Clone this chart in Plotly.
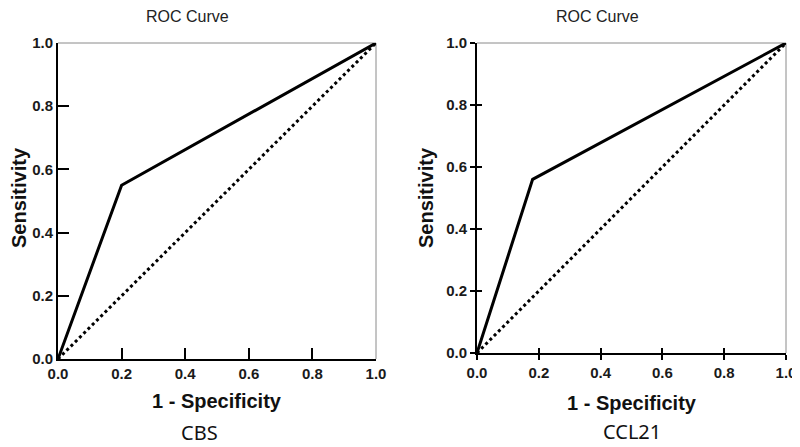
import plotly.graph_objects as go

# ---- data ----
cbs_fpr = [0.0, 0.20, 1.0]
cbs_tpr = [0.0, 0.55, 1.0]
ccl_fpr = [0.0, 0.18, 1.0]
ccl_tpr = [0.0, 0.56, 1.0]
ref_x = [0.0, 1.0]
ref_y = [0.0, 1.0]
tick_vals = [0.0, 0.2, 0.4, 0.6, 0.8, 1.0]
tick_text = ["0.0", "0.2", "0.4", "0.6", "0.8", "1.0"]
panel_names = ["CBS", "CCL21"]

W, H = 800, 447
OFF = 8  # page body margin in the viewer

def px_x(p):
    return (p - OFF) / W

def px_y(p):
    return 1 - (p - OFF) / H

fig = go.Figure()

# left panel
fig.add_trace(go.Scatter(x=cbs_fpr, y=cbs_tpr, mode="lines",
                         line=dict(color="black", width=3),
                         xaxis="x", yaxis="y", showlegend=False, hoverinfo="skip"))
fig.add_trace(go.Scatter(x=ref_x, y=ref_y, mode="lines",
                         line=dict(color="black", width=3, dash="3px,3px"),
                         xaxis="x", yaxis="y", showlegend=False, hoverinfo="skip"))
# right panel
fig.add_trace(go.Scatter(x=ccl_fpr, y=ccl_tpr, mode="lines",
                         line=dict(color="black", width=3),
                         xaxis="x2", yaxis="y2", showlegend=False, hoverinfo="skip"))
fig.add_trace(go.Scatter(x=ref_x, y=ref_y, mode="lines",
                         line=dict(color="black", width=3, dash="3px,3px"),
                         xaxis="x2", yaxis="y2", showlegend=False, hoverinfo="skip"))
# empty trace for overlay axes (inside half of crossing ticks)
fig.add_trace(go.Scatter(x=[None], y=[None], xaxis="x3", yaxis="y3",
                         showlegend=False, hoverinfo="skip"))

tick_font = dict(family="Liberation Sans, Arial", size=15, color="#1a1a1a", weight="bold")

dom_x1 = [px_x(58), px_x(376)]
dom_x2 = [px_x(477), px_x(786)]
dom_y1 = [px_y(359), px_y(43)]
dom_y2 = [px_y(353), px_y(43)]

common = dict(range=[0, 1], tickvals=tick_vals, ticktext=tick_text,
              showgrid=False, zeroline=False, showline=True, automargin=False,
              linecolor="black", linewidth=2, tickcolor="black",
              tickwidth=1.5, tickfont=tick_font, fixedrange=True)

fig.update_layout(
    template="none",
    width=W, height=H,
    margin=dict(l=0, r=0, t=0, b=0, pad=0, autoexpand=False),
    paper_bgcolor="white", plot_bgcolor="white",
    xaxis=dict(domain=dom_x1, anchor="y", ticks="inside", ticklen=11, **common),
    yaxis=dict(domain=dom_y1, anchor="x", ticks="inside", ticklen=11, **common),
    xaxis2=dict(domain=dom_x2, anchor="y2", ticks="outside", ticklen=5, **common),
    yaxis2=dict(domain=dom_y2, anchor="x2", ticks="outside", ticklen=5, **common),
    xaxis3=dict(domain=dom_x2, anchor="y3", overlaying="x2", range=[0, 1],
                tickvals=tick_vals, ticks="inside", ticklen=5, tickwidth=1.5,
                tickcolor="black", showticklabels=False, showgrid=False, automargin=False,
                zeroline=False, showline=False, fixedrange=True),
    yaxis3=dict(domain=dom_y2, anchor="x3", overlaying="y2", range=[0, 1],
                tickvals=tick_vals, ticks="inside", ticklen=5, tickwidth=1.5,
                tickcolor="black", showticklabels=False, showgrid=False, automargin=False,
                zeroline=False, showline=False, fixedrange=True),
)

# thin grey top/right frame
for xr, yr in [("x", "y"), ("x2", "y2")]:
    fig.add_shape(type="line", xref=f"{xr} domain", yref=f"{yr} domain",
                  x0=0, x1=1, y0=1, y1=1, line=dict(color="#8a8a8a", width=1), layer="below")
    fig.add_shape(type="line", xref=f"{xr} domain", yref=f"{yr} domain",
                  x0=1, x1=1, y0=0, y1=1, line=dict(color="#8a8a8a", width=1), layer="below")

ann = []
# titles
for cx in [187, 597]:
    ann.append(dict(text="ROC Curve", x=px_x(cx), y=px_y(17), xref="paper", yref="paper",
                    showarrow=False, xanchor="center", yanchor="middle",
                    font=dict(family="Liberation Sans, Arial", size=16, color="#222")))
# x titles
for cx, cy in [(217, 401), (632, 403)]:
    ann.append(dict(text="<b>1 - Specificity</b>", x=px_x(cx), y=px_y(cy), xref="paper", yref="paper",
                    showarrow=False, xanchor="center", yanchor="middle",
                    font=dict(family="Liberation Sans, Arial", size=20, color="#111")))
# y titles
for cx, cy in [(19, 198), (426, 198)]:
    ann.append(dict(text="<b>Sensitivity</b>", x=px_x(cx), y=px_y(cy), xref="paper", yref="paper",
                    showarrow=False, xanchor="center", yanchor="middle", textangle=-90,
                    font=dict(family="Liberation Sans, Arial", size=20, color="#111")))
# panel names
for name, cx, cy in zip(panel_names, [199, 632], [432, 431]):
    ann.append(dict(text=name, x=px_x(cx), y=px_y(cy), xref="paper", yref="paper",
                    showarrow=False, xanchor="center", yanchor="middle",
                    font=dict(family="Noto Sans, Liberation Sans", size=20, color="#111")))
fig.update_layout(annotations=ann)

fig.write_html("out.html")
